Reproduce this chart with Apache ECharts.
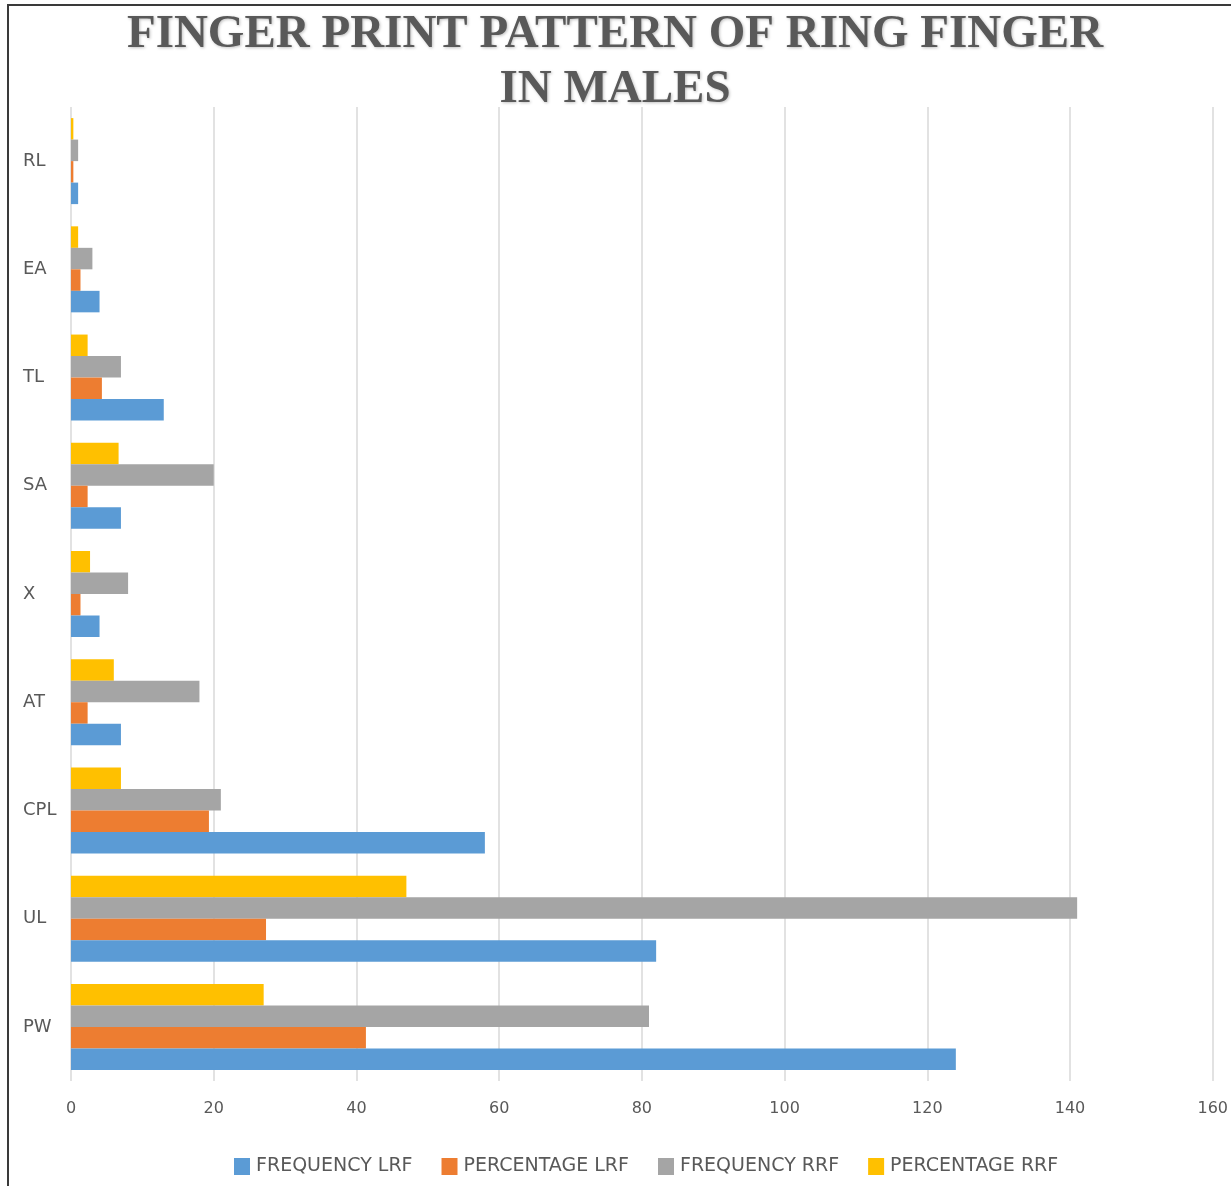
<!DOCTYPE html>
<html>
<head>
<meta charset="utf-8">
<script src="https://cdn.jsdelivr.net/npm/echarts@6/dist/echarts.min.js"></script>
<style>
  html, body { margin: 0; padding: 0; background: #fff; overflow: hidden; }
  #chart {
    position: absolute; left: 7px; top: 4px;
    width: 1222px; height: 1180px;
    border-left: 2px solid #3a3a3a; border-top: 2px solid #3a3a3a;
  }
</style>
</head>
<body>
<div id="chart"></div>
<script>
// categories, bottom to top
const categories = ['PW', 'UL', 'CPL', 'AT', 'X', 'SA', 'TL', 'EA', 'RL']
const seriesNames = ['FREQUENCY LRF', 'PERCENTAGE LRF', 'FREQUENCY RRF', 'PERCENTAGE RRF']
const colors = ['#5B9BD5', '#ED7D31', '#A5A5A5', '#FFC000']

const frequencyLrf = [124, 82, 58, 7, 4, 7, 13, 4, 1]
const percentageLrf = [41.33, 27.33, 19.33, 2.33, 1.33, 2.33, 4.33, 1.33, 0.33]
const frequencyRrf = [81, 141, 21, 18, 8, 20, 7, 3, 1]
const percentageRrf = [27, 47, 7, 6, 2.67, 6.67, 2.33, 1, 0.33]

const xTicks = { min: 0, max: 160, interval: 20 }

const chart = echarts.init(document.getElementById('chart'))
const values = [frequencyLrf, percentageLrf, frequencyRrf, percentageRrf]

// ECharts stacks series top-down inside a band, so add them in reverse
// to keep FREQUENCY LRF at the bottom like the original
const series = seriesNames.map((name, i) => ({
  name,
  type: 'bar',
  data: values[i],
  barWidth: 21.5,
  barGap: 0,
  itemStyle: { color: colors[i] }
})).reverse()

chart.setOption({
  animation: false,
  title: {
    text: 'FINGER PRINT PATTERN OF RING FINGER\nIN MALES',
    left: 601, top: -4, textAlign: 'center',
    textStyle: {
      fontFamily: 'Liberation Serif', fontWeight: 'bold',
      fontSize: 47, lineHeight: 55, color: '#595959',
      textShadowColor: 'rgba(0,0,0,0.25)', textShadowBlur: 3, textShadowOffsetX: 1, textShadowOffsetY: 1
    }
  },
  legend: {
    data: seriesNames,
    left: 220, top: 1146,
    itemWidth: 16, itemHeight: 17, itemGap: 29,
    icon: 'rect',
    textStyle: { fontFamily: 'DejaVu Sans', fontSize: 19, color: '#595959', padding: [0, 0, 0, 1] }
  },
  grid: { left: 62, right: 18, top: 101, bottom: 105 },
  xAxis: {
    type: 'value',
    min: xTicks.min, max: xTicks.max, interval: xTicks.interval,
    axisLine: { show: false },
    axisTick: { show: false },
    axisLabel: { fontFamily: 'DejaVu Sans', fontSize: 16, color: '#595959', margin: 20 },
    splitLine: { lineStyle: { color: '#D9D9D9', width: 1.5 } }
  },
  yAxis: {
    type: 'category',
    data: categories,
    axisLine: { show: false },
    axisTick: { show: false },
    axisLabel: { fontFamily: 'DejaVu Sans', fontSize: 18, color: '#595959', align: 'left', margin: 48 }
  },
  series
})
</script>
</body>
</html>
